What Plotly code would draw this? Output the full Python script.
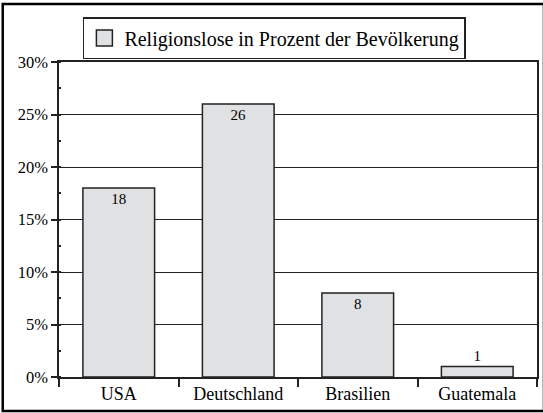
import plotly.graph_objects as go

categories = ["USA", "Deutschland", "Brasilien", "Guatemala"]
values = [18, 26, 8, 1]
series_name = "Religionslose in Prozent der Bevölkerung"
y_tickvals = [0, 5, 10, 15, 20, 25, 30]
y_ticktext = ["0%", "5%", "10%", "15%", "20%", "25%", "30%"]

FONT = "Liberation Serif, Times New Roman, serif"
BAR_FILL = "#e0e1e3"
EDGE = "#222222"

fig = go.Figure()
fig.add_trace(go.Bar(
    x=categories, y=values, name=series_name,
    marker=dict(color=BAR_FILL, line=dict(color=EDGE, width=1.5)),
    width=0.6,
    text=[str(v) for v in values],
    textposition=["inside", "inside", "inside", "outside"],
    insidetextanchor="end",
    textfont=dict(family=FONT, size=15, color="black"),
    constraintext="none",
    cliponaxis=False,
    showlegend=False,
    legendgroup="g",
))
# legend entry for the bar series (larger square icon)
fig.add_trace(go.Scatter(
    x=[None], y=[None], mode="markers", name=series_name,
    marker=dict(symbol="square", size=20, color=BAR_FILL, line=dict(color=EDGE, width=1.5)),
    showlegend=True, legendgroup="g", hoverinfo="skip",
))

W, H = 543, 413
L, R, T, B = 59, 4, 62, 36
pw, ph = W - L - R, H - T - B

def px(x):
    return (x - L) / pw

def py(y):
    return (H - B - y) / ph

fig.update_layout(
    width=W, height=H,
    margin=dict(l=L, r=R, t=T, b=B),
    paper_bgcolor="white", plot_bgcolor="white",
    font=dict(family=FONT, color="black"),
    showlegend=True,
    legend=dict(
        x=px(83), y=py(17), xanchor="left", yanchor="top",
        bordercolor=EDGE, borderwidth=1.5,
        font=dict(family=FONT, size=20, color="black"),
        bgcolor="white",
        itemwidth=30,
    ),
    xaxis=dict(
        type="category",
        showline=True, linecolor=EDGE, linewidth=1.5, mirror=True,
        ticks="outside", ticklen=8, tickwidth=1.5, tickcolor=EDGE,
        tickson="boundaries",
        showgrid=False,
        tickfont=dict(family=FONT, size=18, color="black"),
    ),
    yaxis=dict(
        range=[0, 30],
        tickvals=y_tickvals, ticktext=y_ticktext,
        showline=True, linecolor=EDGE, linewidth=1.5, mirror=True,
        ticks="outside", ticklen=6, tickwidth=1.5, tickcolor=EDGE,
        showgrid=True, gridcolor=EDGE, gridwidth=1,
        zeroline=False,
        tickfont=dict(family=FONT, size=16.5, color="black"),
        minor=dict(dtick=2.5, ticks="inside", ticklen=2, tickcolor=EDGE, showgrid=False),
    ),
    shapes=[dict(
        type="rect", xref="paper", yref="paper",
        x0=px(2.5), x1=px(546), y0=py(411), y1=py(4),
        line=dict(color="black", width=2.5), fillcolor="rgba(0,0,0,0)",
        layer="above",
    )],
)

fig.write_html(
    "out.html",
    config={"displayModeBar": False},
    post_script="document.body.style.margin='0';document.body.style.overflow='hidden';",
)
